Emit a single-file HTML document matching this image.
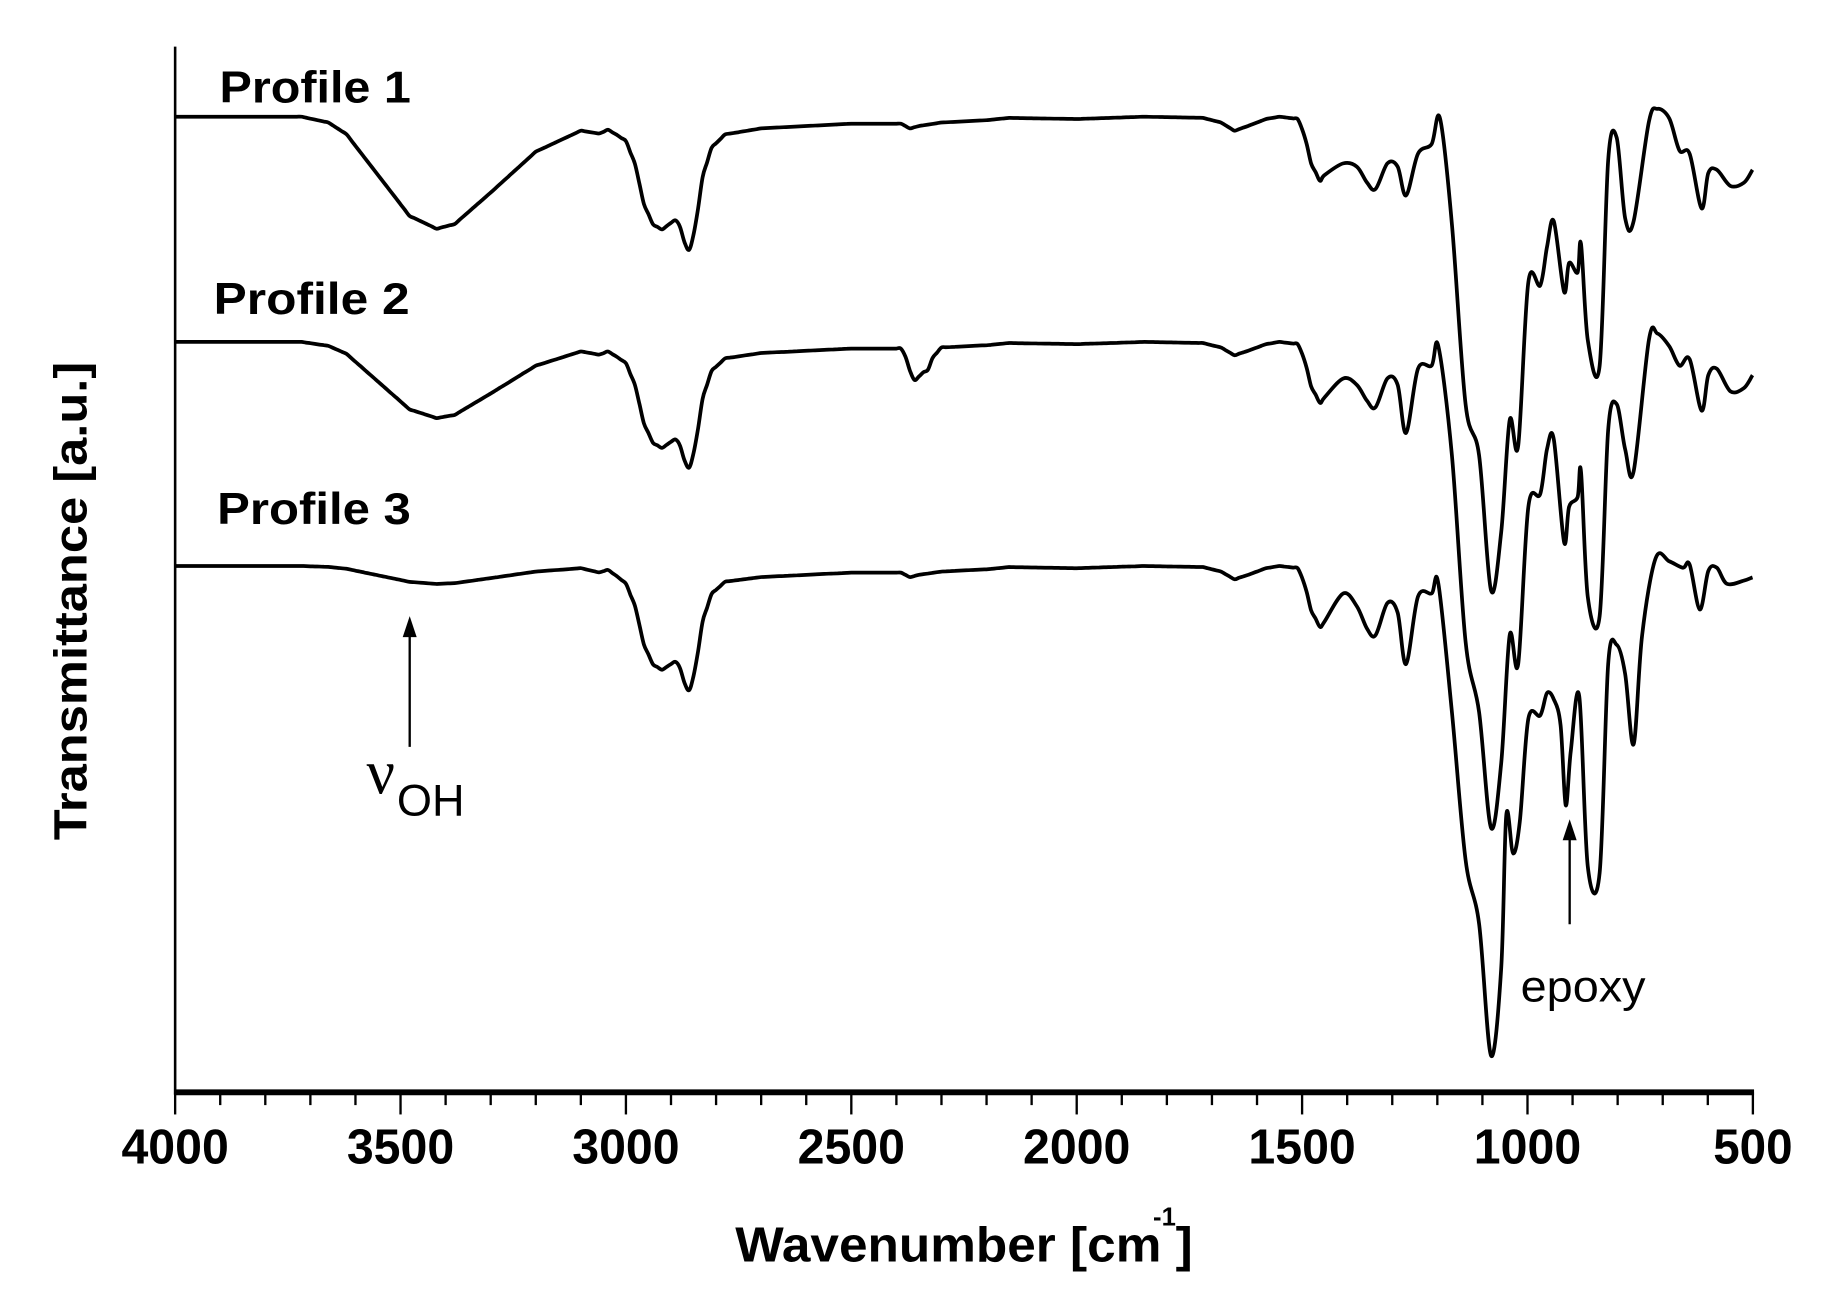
<!DOCTYPE html>
<html><head><meta charset="utf-8"><style>html,body{margin:0;padding:0;background:#fff}svg{display:block}</style></head>
<body>
<svg id="s" width="1830" height="1293" viewBox="0 0 1568 1108" xmlns="http://www.w3.org/2000/svg">
<rect width="1568" height="1108" fill="#fff"/>
<g id="axes" stroke="#000" fill="none"></g>
<g id="curves" stroke="#000" stroke-width="3.2" fill="none" stroke-linejoin="round"></g>
<g font-family="Liberation Sans, Arial, sans-serif" fill="#000">
<text x="188" y="88" font-size="38" font-weight="bold" textLength="164" lengthAdjust="spacingAndGlyphs">Profile 1</text>
<text x="183" y="269" font-size="38" font-weight="bold" textLength="168" lengthAdjust="spacingAndGlyphs">Profile 2</text>
<text x="186" y="449" font-size="38" font-weight="bold" textLength="166" lengthAdjust="spacingAndGlyphs">Profile 3</text>
<text x="314" y="680" font-size="54" font-family="Liberation Serif, serif">ν</text>
<text x="340" y="699" font-size="38" textLength="58" lengthAdjust="spacingAndGlyphs">OH</text>
<text x="1303" y="858" font-size="38" textLength="107" lengthAdjust="spacingAndGlyphs">epoxy</text>
<text x="826" y="1081" font-size="42" font-weight="bold" text-anchor="middle" textLength="392" lengthAdjust="spacingAndGlyphs">Wavenumber [cm  ]</text>
<text x="988" y="1050" font-size="22" font-weight="bold">-1</text>
<text transform="translate(74,515) rotate(-90)" font-size="40" font-weight="bold" text-anchor="middle" textLength="410" lengthAdjust="spacingAndGlyphs">Transmittance [a.u.]</text>
<g id="ticklabels" font-size="42" font-weight="bold" text-anchor="middle"></g>
</g>
<g stroke="#000" stroke-width="2"><line x1="351" y1="640" x2="351" y2="545"/><line x1="1345" y1="792" x2="1345" y2="718"/></g>
<polygon points="351,528 345,546 357,546" fill="#000"/>
<polygon points="1345,702 1339,720 1351,720" fill="#000"/>
</svg>
<script>
const NS="http://www.w3.org/2000/svg";
function X(w){return 150+(4000-w)/3500*1352;}
const ax=document.getElementById('axes');
function ln(x1,y1,x2,y2,sw){const l=document.createElementNS(NS,'line');l.setAttribute('x1',x1);l.setAttribute('y1',y1);l.setAttribute('x2',x2);l.setAttribute('y2',y2);l.setAttribute('stroke-width',sw);ax.appendChild(l);}
ln(150,40,150,938,2.2);
ln(149,936,1503,936,5);
const tl=document.getElementById('ticklabels');
for(let w=4000;w>=500;w-=100){const x=X(w);const maj=w%500==0;ln(x,936,x,maj?955:947,2);
 if(maj){const t=document.createElementNS(NS,'text');t.setAttribute('x',x);t.setAttribute('y',997);t.setAttribute('textLength',w>=1000?92:68);t.setAttribute('lengthAdjust','spacingAndGlyphs');t.textContent=w;tl.appendChild(t);}}
const base=[[4000,0],[3100,0],[3060,4],[3040,2],[3020,8],[3000,15],[2980,35],[2960,70],[2940,88],[2920,93],[2900,88],[2885,85],[2870,105],[2858,113],[2845,90],[2830,50],[2810,25],[2780,14],[2700,10],[2500,6],[2390,6],[2370,10],[2350,8],[2300,5],[2200,3],[2150,1],[2000,2],[1850,0],[1720,1],[1680,5],[1650,12],[1620,8],[1580,2],[1550,0],[1510,2],[1495,15],[1480,40],[1460,55],[1440,45]];
const oh=[[3720,0],[3660,5],[3620,15],[3550,50],[3480,85],[3420,96],[3380,92],[3300,65],[3200,30],[3100,12],[3050,10],[3000,6],[2900,3],[2700,0]];
const d2350=[[2385,0],[2365,20],[2355,28],[2345,16],[2335,22],[2320,8],[2300,0]];
function interp(a,w){if(w>a[0][0]||w<a[a.length-1][0])return 0;for(let i=0;i<a.length-1;i++){if(w<=a[i][0]&&w>=a[i+1][0]){const t=(a[i][0]-w)/(a[i][0]-a[i+1][0]);return a[i][1]+t*(a[i+1][1]-a[i][1]);}}return 0;}
const fp=[
[[0,145],[40,150],[70,175],[95,185],[130,145],[160,150],[185,195],[220,130],[260,115],[285,75],[320,240],[360,520],[400,600],[435,810],[465,720],[490,545],[515,585],[545,330],[580,335],[600,275],[620,235],[650,345],[665,300],[690,315],[700,270],[720,420],[755,460],[780,140],[805,105],[830,230],[855,235],[900,80],[925,60],[960,75],[990,125],[1020,130],[1055,215],[1075,160],[1100,155],[1140,180],[1180,175],[1205,155]],
[[0,480],[40,490],[70,515],[95,525],[130,480],[160,490],[185,565],[220,465],[260,460],[280,430],[320,600],[360,890],[400,1000],[435,1180],[465,1080],[490,880],[515,925],[545,680],[580,660],[600,590],[620,575],[650,735],[665,680],[690,665],[700,625],[720,820],[755,850],[780,560],[805,520],[830,590],[855,625],[900,420],[925,410],[960,430],[990,460],[1020,450],[1055,530],[1075,475],[1100,465],[1140,500],[1180,495],[1205,475]],
[[0,815],[40,835],[70,870],[95,880],[130,830],[160,845],[185,925],[220,820],[260,815],[280,800],[320,1000],[360,1230],[400,1330],[435,1535],[465,1400],[480,1160],[500,1220],[520,1170],[545,1010],[580,1005],[600,970],[620,980],[640,1020],[655,1145],[670,1060],[695,975],[720,1240],[755,1250],[780,925],[805,895],[830,940],[855,1050],[880,880],[920,760],[960,765],[1000,775],[1020,770],[1050,840],[1075,780],[1100,775],[1130,800],[1180,795],[1205,790]]];
const prof=[{b:100,oh:1,e:0},{b:293,oh:0.68,e:1},{b:485,oh:0.16,e:0}];
const cg=document.getElementById('curves');
function smooth(p){let d='M'+p[0][0].toFixed(1)+','+p[0][1].toFixed(1);
 for(let i=0;i<p.length-1;i++){const p0=p[Math.max(0,i-1)],p1=p[i],p2=p[i+1],p3=p[Math.min(p.length-1,i+2)];
  const c1=[p1[0]+(p2[0]-p0[0])/6,p1[1]+(p2[1]-p0[1])/6],c2=[p2[0]-(p3[0]-p1[0])/6,p2[1]-(p3[1]-p1[1])/6];
  d+='C'+c1[0].toFixed(1)+','+c1[1].toFixed(1)+' '+c2[0].toFixed(1)+','+c2[1].toFixed(1)+' '+p2[0].toFixed(1)+','+p2[1].toFixed(1);}
 return d;}
prof.forEach((p,i)=>{let pts=[];
 for(let w=4000;w>=1450;w-=10){let y=p.b+interp(base,w)*(i==0?1:0.95)+p.oh*interp(oh,w)+p.e*interp(d2350,w);pts.push([X(w),y]);}
 fp[i].forEach(q=>pts.push([1151+q[0]*0.291,140+(q[1]-145)*0.55]));
 const pa=document.createElementNS(NS,'path');pa.setAttribute('d',smooth(pts));cg.appendChild(pa);});
</script>
</body></html>
